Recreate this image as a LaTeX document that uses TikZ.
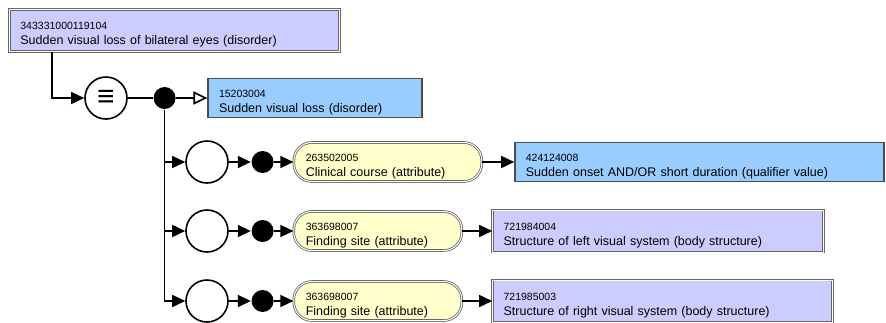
\documentclass[tikz,border=0pt]{standalone}
\usepackage{fontspec}
\setmainfont{Liberation Sans}
\usetikzlibrary{arrows.meta,positioning}

\definecolor{defined}{RGB}{204,204,255}
\definecolor{primitive}{RGB}{153,204,255}
\definecolor{attrib}{RGB}{255,255,204}

% concept id on a small first line, then its term
\newcommand{\sct}[2]{{\fontsize{10.5}{15}\selectfont\rule{0pt}{16.5pt}#1}\\#2}

\begin{document}
\begin{tikzpicture}[x=1pt, y=-1pt, line width=1.6pt,
    >={Triangle[length=13pt,width=12pt]},
    concept/.style={rectangle, align=left, inner xsep=11pt, inner ysep=2pt,
      font=\fontsize{12.5}{15}\selectfont, text width=#1},
    defd/.style={concept=#1, fill=defined, draw=black!60, line width=0.8pt,
      double=white, double distance=1pt, minimum height=42pt},
    prim/.style={concept=#1, fill=primitive, draw=black!70, line width=1.3pt,
      minimum height=39pt},
    attr/.style={concept=#1, inner xsep=12pt, fill=attrib, draw=black!60,
      line width=0.8pt, double=white, double distance=1pt,
      rounded corners=18pt, minimum height=39pt},
    grp/.style={circle, draw, fill=white, minimum size=42pt, inner sep=0pt},
    dot/.style={circle, fill=black, minimum size=22pt, inner sep=0pt},
    node distance=22pt]
  \useasboundingbox (0,0) rectangle (886,322);
  \clip (0,0) rectangle (886,322);

  \node [defd=308pt, anchor=north west] (C) at (9,9)
        {\sct{343331000119104}{Sudden visual loss of bilateral eyes (disorder)}};

  \node [grp] (E) at (106,98) {\bfseries\fontsize{30}{30}\selectfont ≡};
  \node [dot, right=25pt of E]                  (D0) {};
  \node [prim=192pt, right=31pt of D0, anchor=west] (P)
        {\sct{15203004}{Sudden visual loss (disorder)}};

  % one role group per row
  \node [grp] (G1) at (207,162) {};
  \node [dot, right=of G1]                      (D1) {};
  \node [attr=164pt, right=19pt of D1]          (A1)
        {\sct{263502005}{Clinical course (attribute)}};
  \node [prim=347pt, right=32pt of A1]          (V1)
        {\sct{424124008}{Sudden onset AND/OR short duration (qualifier value)}};

  \node [grp] (G2) at (207,231) {};
  \node [dot, right=of G2]                      (D2) {};
  \node [attr=144pt, right=19pt of D2]          (A2)
        {\sct{363698007}{Finding site (attribute)}};
  \node [defd=309pt, right=30pt of A2]          (V2)
        {\sct{721984004}{Structure of left visual system (body structure)}};

  \node [grp] (G3) at (207,301) {};
  \node [dot, right=of G3]                      (D3) {};
  \node [attr=144pt, right=19pt of D3]          (A3)
        {\sct{363698007}{Finding site (attribute)}};
  \node [defd=318pt, right=30pt of A3]          (V3)
        {\sct{721985003}{Structure of right visual system (body structure)}};

  \draw [->] ([xshift=43pt]C.south west) |- (E);
  \draw (E) -- (D0);
  \draw [-{Triangle[open,length=14pt,width=13pt,fill=white]}] (D0) -- (P);
  \foreach \i in {1,2,3} {
    \draw [->] (D0) |- (G\i);
    \draw [->] (G\i) -- (D\i);
    \draw [->] (D\i) -- (A\i);
    \draw [->] (A\i) -- (V\i);
  }
\end{tikzpicture}
\end{document}
